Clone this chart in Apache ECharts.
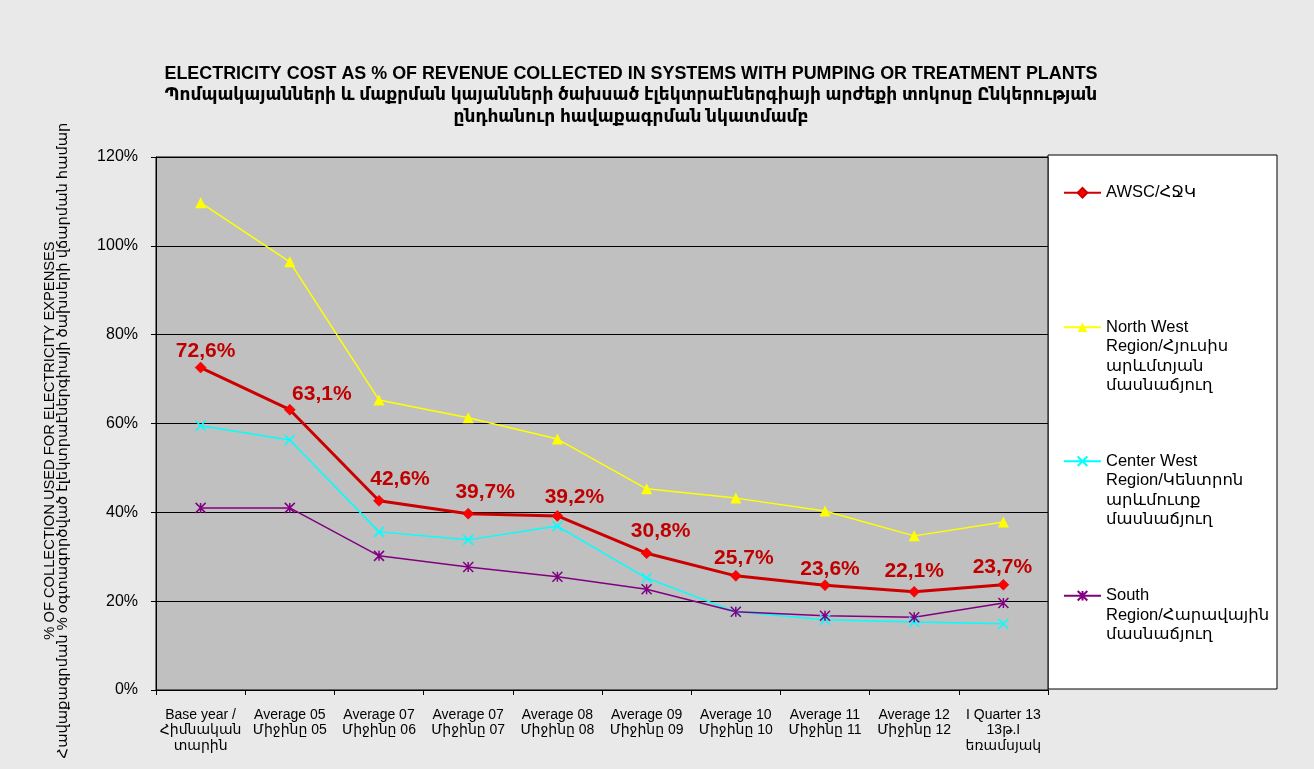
<!DOCTYPE html>
<html>
<head>
<meta charset="utf-8">
<script src="https://cdn.jsdelivr.net/npm/echarts@6/dist/echarts.min.js"></script>
<style>
  html, body { margin: 0; padding: 0; background: #e9e9e9; }
  #chart_id { width: 1314px; height: 769px; }
</style>
</head>
<body>
<div id="chart_id"></div>
<script>
// categories (x axis)
var categories = [
  'Base year /\nՀիմնական\nտարին',
  'Average 05\nՄիջինը 05',
  'Average 07\nՄիջինը 06',
  'Average 07\nՄիջինը 07',
  'Average 08\nՄիջինը 08',
  'Average 09\nՄիջինը 09',
  'Average 10\nՄիջինը 10',
  'Average 11\nՄիջինը 11',
  'Average 12\nՄիջինը 12',
  'I Quarter 13\n13թ.I\nեռամսյակ'
];
// series values, %
var awsc = [72.6, 63.1, 42.6, 39.7, 39.2, 30.8, 25.7, 23.6, 22.1, 23.7];
var northWest = [109.7, 96.4, 65.3, 61.3, 56.5, 45.3, 43.2, 40.3, 34.7, 37.8];
var centerWest = [59.5, 56.3, 35.6, 33.8, 36.9, 25.2, 17.6, 15.8, 15.3, 14.9];
var south = [41.0, 41.0, 30.2, 27.7, 25.5, 22.7, 17.6, 16.7, 16.4, 19.6];
// y ticks
var yMin = 0, yMax = 120, yStep = 20;

// label shifts for the AWSC value labels (style only)
var labelShift = [[5, -16], [32, -16], [21, -22], [17, -21], [17, -19], [14, -22], [8, -18], [5, -16], [0, -21], [-1, -18]];

var FONT = '"Liberation Sans", Arial, "DejaVu Sans", sans-serif';

var legendLines = {
  'AWSC': ['AWSC/ՀՋԿ'],
  'North West': ['North West', 'Region/Հյուսիս', 'արևմտյան', 'մասնաճյուղ'],
  'Center West': ['Center West', 'Region/Կենտրոն', 'արևմուտք', 'մասնաճյուղ'],
  'South': ['South', 'Region/Հարավային', 'մասնաճյուղ']
};

// blank lines on top keep the icon level with the first text line
function legendFor(name, top) {
  var lines = legendLines[name];
  var pad = [];
  for (var i = 1; i < lines.length; i++) pad.push('');
  return {
    data: [name],
    orient: 'vertical',
    left: 1063,
    top: top,
    padding: 0,
    itemWidth: 37,
    itemHeight: 12,
    selectedMode: false,
    formatter: function () { return pad.concat(lines).join('\n'); },
    textStyle: {
      fontFamily: FONT,
      fontSize: 16.5,
      color: '#000',
      lineHeight: 19.5
    }
  };
}

var chart = echarts.init(document.getElementById('chart_id'));
var option = {
  animation: false,
  backgroundColor: '#e9e9e9',
  title: [
    {
      text: 'ELECTRICITY COST AS % OF REVENUE COLLECTED IN SYSTEMS WITH PUMPING OR TREATMENT PLANTS',
      left: 631,
      top: 63,
      textAlign: 'center',
      padding: 0,
      textStyle: { fontFamily: FONT, fontSize: 17.9, fontWeight: 'bold', color: '#000', lineHeight: 21.5 }
    },
    {
      text: 'Պոմպակայանների և մաքրման կայանների ծախսած էլեկտրաէներգիայի արժեքի տոկոսը Ընկերության\n' +
        'ընդհանուր հավաքագրման նկատմամբ',
      left: 631,
      top: 85,
      textAlign: 'center',
      padding: 0,
      textStyle: { fontFamily: FONT, fontSize: 17, fontWeight: 'bold', color: '#000', lineHeight: 21.5 }
    }
  ],
  graphic: [
    {
      type: 'rect',
      shape: { x: 1048, y: 155, width: 229, height: 534 },
      style: { fill: '#fff', stroke: '#000', lineWidth: 1 },
      z: -1
    }
  ],
  legend: [
    legendFor('AWSC', 183),
    legendFor('North West', 259),
    legendFor('Center West', 393),
    legendFor('South', 547)
  ],
  grid: {
    left: 156,
    right: 266,
    top: 157,
    bottom: 79,
    show: true,
    backgroundColor: '#c0c0c0',
    borderColor: '#000',
    borderWidth: 1
  },
  xAxis: {
    type: 'category',
    data: categories,
    axisLine: { lineStyle: { color: '#000', width: 1 } },
    axisTick: { show: true, length: 5, lineStyle: { color: '#000' } },
    axisLabel: {
      interval: 0,
      margin: 17,
      fontFamily: FONT,
      fontSize: 14,
      lineHeight: 15.5,
      color: '#000'
    }
  },
  yAxis: {
    type: 'value',
    min: yMin,
    max: yMax,
    interval: yStep,
    name: '% OF COLLECTION USED FOR ELECTRICITY EXPENSES\nՀավաքագրման % օգտագործված էլեկտրաէներգիայի ծախսերի վճարման համար',
    nameLocation: 'middle',
    nameRotate: 90,
    nameGap: 86,
    nameTextStyle: {
      fontFamily: FONT,
      fontSize: 14.7,
      lineHeight: 13.5,
      color: '#000',
      padding: [0, 0, 0, -34]
    },
    axisLine: { show: true, lineStyle: { color: '#000', width: 1 } },
    axisTick: { show: true, length: 5, lineStyle: { color: '#000' } },
    splitLine: { lineStyle: { color: '#000', width: 1 } },
    axisLabel: {
      margin: 18,
      fontFamily: FONT,
      fontSize: 16,
      color: '#000',
      formatter: '{value}%'
    }
  },
  series: [
    {
      name: 'AWSC',
      type: 'line',
      z: 5,
      data: awsc.map(function (v, i) {
        return { value: v, label: { offset: labelShift[i] } };
      }),
      symbol: 'diamond',
      symbolSize: 11,
      lineStyle: { color: '#cc0000', width: 3 },
      itemStyle: { color: '#ff0000', borderColor: '#cc0000', borderWidth: 0.5 },
      label: {
        show: true,
        position: 'inside',
        fontFamily: FONT,
        fontSize: 21,
        fontWeight: 'bold',
        color: '#c00000',
        formatter: function (p) { return p.value.toFixed(1).replace('.', ',') + '%'; }
      }
    },
    {
      name: 'North West',
      type: 'line',
      data: northWest,
      symbol: 'triangle',
      symbolSize: 11,
      lineStyle: { color: '#ffff00', width: 1.5 },
      itemStyle: { color: '#ffff00' }
    },
    {
      name: 'Center West',
      type: 'line',
      data: centerWest,
      symbol: 'path://M0 0L10 10M10 0L0 10',
      symbolSize: 10,
      lineStyle: { color: '#00ffff', width: 1.5 },
      itemStyle: { color: '#00ffff', borderColor: '#00ffff', borderWidth: 1.5 }
    },
    {
      name: 'South',
      type: 'line',
      data: south,
      symbol: 'path://M0 0L10 10M10 0L0 10M5 0L5 10',
      symbolSize: 10,
      lineStyle: { color: '#800080', width: 1.5 },
      itemStyle: { color: '#800080', borderColor: '#800080', borderWidth: 1.5 }
    }
  ]
};
chart.setOption(option);
</script>
</body>
</html>
